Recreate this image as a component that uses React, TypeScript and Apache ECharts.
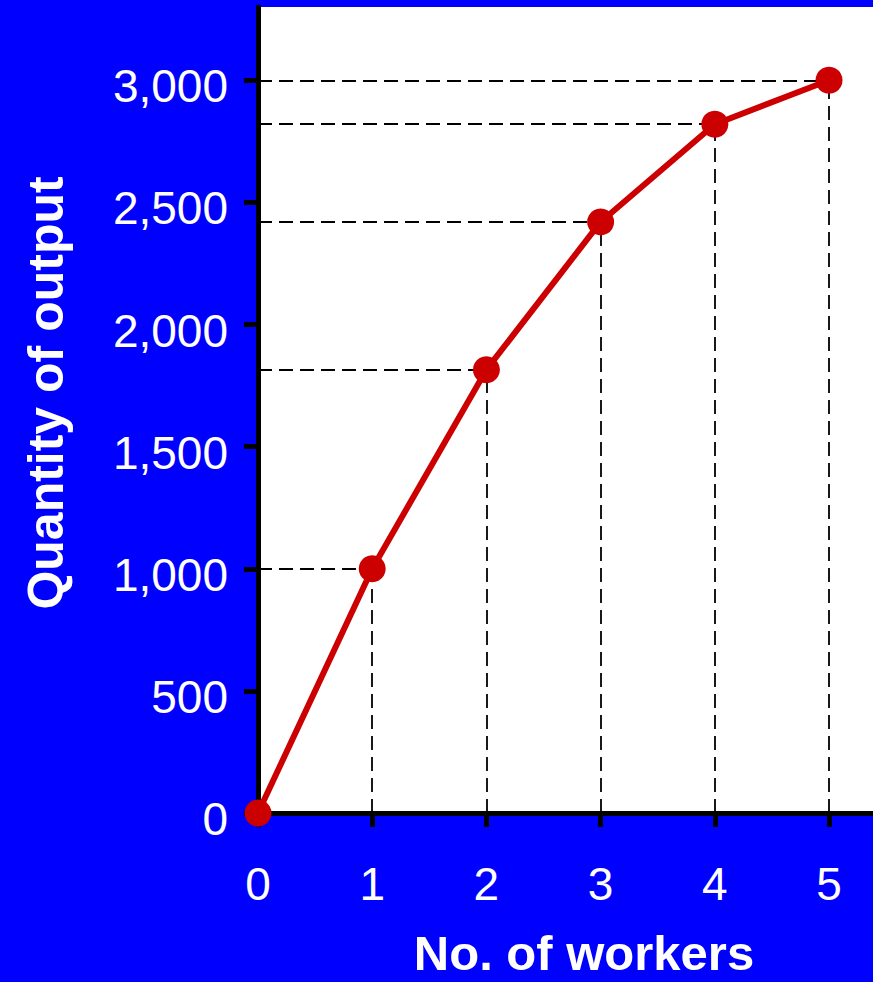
import React, { useEffect, useRef } from "react";
import * as echarts from "echarts";

const workers = [0, 1, 2, 3, 4, 5];
const output = [0, 1000, 1815, 2420, 2820, 3000];
const yTicks = [0, 500, 1000, 1500, 2000, 2500, 3000];
const xTicks = [0, 1, 2, 3, 4, 5];
const xTitle = "No. of workers";
const yTitle = "Quantity of output";

const FONT = "'Liberation Sans', Arial, Helvetica, sans-serif";

export default function App() {
  const ref = useRef<HTMLDivElement>(null);
  useEffect(() => {
    if (!ref.current) return;
    const chart = echarts.init(ref.current, null, { renderer: "svg" });
    const points = workers.map((w, i) => [w, output[i]]);
    const guides: any[] = [];
    workers.forEach((w, i) => {
      if (i === 0) return;
      const v = output[i];
      guides.push([{ coord: [0, v] }, { coord: [w, v] }]);
      guides.push([{ coord: [w, 0] }, { coord: [w, v] }]);
    });
    chart.setOption({
      animation: false,
      backgroundColor: "#0000FF",
      grid: {
        left: 258,
        right: 0,
        top: 7,
        bottom: 169,
        show: true,
        backgroundColor: "#FFFFFF",
        borderWidth: 0,
      },
      xAxis: {
        type: "value",
        min: 0,
        max: 5.385,
        interval: 1,
        splitLine: { show: false },
        axisLine: { show: true, onZero: false, lineStyle: { color: "#000", width: 5 } },
        axisTick: {
          show: true,
          length: 14,
          customValues: xTicks,
          lineStyle: { color: "#000", width: 5 },
        },
        axisLabel: {
          customValues: xTicks,
          color: "#fff",
          fontFamily: FONT,
          fontSize: 46,
          margin: 71,
          verticalAlign: "middle",
          formatter: (v: number) => String(v),
        },
      },
      yAxis: {
        type: "value",
        min: 0,
        max: 3300,
        interval: 500,
        splitLine: { show: false },
        axisLine: { show: true, onZero: false, lineStyle: { color: "#000", width: 5 } },
        axisTick: {
          show: true,
          length: 14,
          customValues: yTicks,
          lineStyle: { color: "#000", width: 5 },
        },
        axisLabel: {
          customValues: yTicks,
          color: "#fff",
          fontFamily: FONT,
          fontSize: 46,
          margin: 30,
          formatter: (v: number) => `{v|${v.toLocaleString("en-US")}}`,
          rich: {
            v: {
              color: "#fff",
              fontFamily: FONT,
              fontSize: 46,
              padding: [12, 0, 0, 0],
            },
          },
        },
      },
      graphic: [
        {
          type: "text",
          x: 584,
          y: 953,
          style: {
            text: xTitle,
            fill: "#fff",
            font: `bold 49px ${FONT}`,
            align: "center",
            verticalAlign: "middle",
          },
        },
        {
          type: "text",
          x: 46,
          y: 393,
          rotation: Math.PI / 2,
          style: {
            text: yTitle,
            fill: "#fff",
            font: `bold 50px ${FONT}`,
            align: "center",
            verticalAlign: "middle",
          },
        },
      ],
      series: [
        {
          type: "line",
          data: points,
          symbol: "circle",
          symbolSize: 27,
          lineStyle: { color: "#CC0000", width: 6 },
          itemStyle: { color: "#CC0000" },
          z: 5,
          markLine: {
            silent: true,
            symbol: ["none", "none"],
            label: { show: false },
            lineStyle: { color: "#000", type: [14, 7], width: 1.8, opacity: 1 },
            emphasis: { disabled: true },
            data: guides,
          },
        },
      ],
    });
    return () => chart.dispose();
  }, []);
  return (
    <div
      ref={ref}
      style={{ position: "fixed", left: 0, top: 0, width: 873, height: 982 }}
    />
  );
}
